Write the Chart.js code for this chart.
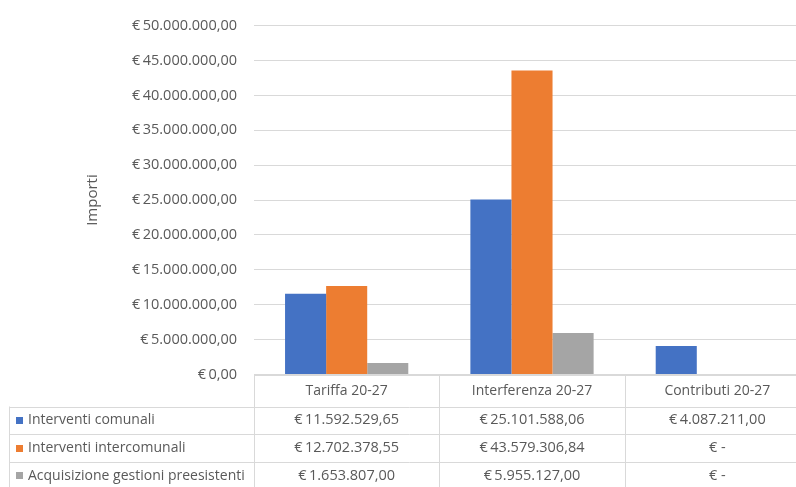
<!DOCTYPE html>
<html><head><meta charset="utf-8">
<script src="https://cdn.jsdelivr.net/npm/chart.js@4"></script>
<style>
html,body{margin:0;padding:0;overflow:hidden;background:#fff;width:796px;height:487px}
canvas{display:block}
</style>
</head><body>
<canvas id="c" width="812" height="487" style="width:812px;height:487px"></canvas>
<script>
// ---- data ----
const categories = ['Tariffa 20-27', 'Interferenza 20-27', 'Contributi 20-27'];
const seriesNames = ['Interventi comunali', 'Interventi intercomunali', 'Acquisizione gestioni preesistenti'];
const interventiComunali = [11592529.65, 25101588.06, 4087211.00];
const interventiIntercomunali = [12702378.55, 43579306.84, 0];
const acquisizioneGestioni = [1653807.00, 5955127.00, 0];
const seriesColors = ['#4472C4', '#ED7D31', '#A5A5A5'];
const yMin = 0, yMax = 50000000, yStep = 5000000;
const yAxisTitle = 'Importi';

// ---- formatting ----
function euroFull(v) {
  const s = Math.abs(v).toFixed(2);
  let [i, d] = s.split('.');
  i = i.replace(/\B(?=(\d{3})+(?!\d))/g, '.');
  return '€\u2009' + i + ',' + d;
}
function euroTable(v) { return v === 0 ? '€ -' : euroFull(v); }

const TEXT = '#595959';
const LINE = '#D9D9D9';
const FONT = "'Open Sans', sans-serif";

const tablePlugin = {
  id: 'dataTable',
  afterDraw(chart) {
    const ctx = chart.ctx;
    const area = chart.chartArea;
    const xs = chart.scales.x;
    const n = categories.length;
    const top = area.bottom;
    const catBottom = top + 32;
    const rowH = 27.7;
    const tableLeft = 9.5;
    const bounds = [area.left];
    for (let i = 0; i < n - 1; i++) bounds.push((xs.getPixelForValue(i) + xs.getPixelForValue(i + 1)) / 2);
    bounds.push(area.right);
    ctx.save();
    ctx.strokeStyle = LINE;
    ctx.lineWidth = 1;
    ctx.beginPath();
    ctx.moveTo(area.left, Math.round(top) + 0.5); ctx.lineTo(area.right, Math.round(top) + 0.5);
    for (let r = 0; r <= chart.data.datasets.length; r++) {
      const y = Math.round(catBottom + r * rowH) + 0.5;
      ctx.moveTo(tableLeft, y); ctx.lineTo(area.right, y);
    }
    for (const b of bounds) {
      const x = Math.round(b) + 0.5;
      ctx.moveTo(x, top); ctx.lineTo(x, chart.height + 5);
    }
    ctx.moveTo(tableLeft, catBottom); ctx.lineTo(tableLeft, chart.height + 5);
    ctx.stroke();

    ctx.textBaseline = 'middle';
    chart.data.datasets.forEach((ds, r) => {
      const cy = catBottom + r * rowH + rowH / 2;
      ctx.fillStyle = ds.backgroundColor;
      ctx.fillRect(16, Math.round(cy - 3.5), 7, 7);
      ctx.fillStyle = TEXT;
      ctx.textAlign = 'left';
      ctx.font = '14px ' + FONT;
      ctx.fillText(ds.label, 28, cy);
      ctx.textAlign = 'center';
      ctx.font = '14.5px ' + FONT;
      ds.data.forEach((v, i) => {
        ctx.fillText(euroTable(v), xs.getPixelForValue(i), cy);
      });
    });
    ctx.restore();
  }
};

new Chart(document.getElementById('c'), {
  type: 'bar',
  data: {
    labels: categories,
    datasets: [
      { label: seriesNames[0], data: interventiComunali, backgroundColor: seriesColors[0] },
      { label: seriesNames[1], data: interventiIntercomunali, backgroundColor: seriesColors[1] },
      { label: seriesNames[2], data: acquisizioneGestioni, backgroundColor: seriesColors[2] }
    ]
  },
  options: {
    responsive: false,
    animation: false,
    devicePixelRatio: 1,
    layout: { padding: { left: 80, top: 21, right: 2, bottom: 0 } },
    datasets: { bar: { barPercentage: 1, categoryPercentage: 0.665, borderWidth: 0 } },
    plugins: { legend: { display: false }, tooltip: { enabled: false } },
    scales: {
      x: {
        grid: { display: false, drawTicks: false },
        border: { display: false },
        ticks: { color: TEXT, font: { family: FONT, size: 14 }, padding: 8 },
        afterFit(scale) { scale.height = 112.5; }
      },
      y: {
        min: yMin, max: yMax,
        grid: { color: LINE, drawTicks: false },
        border: { display: false },
        ticks: { stepSize: yStep, color: TEXT, font: { family: FONT, size: 14.5 }, padding: 17,
                 callback: v => euroFull(v) },
        title: { display: true, text: yAxisTitle, color: TEXT, font: { family: FONT, size: 15 }, padding: { top: 4, bottom: 0 } },
        afterFit(scale) { scale.width = 174; }
      }
    }
  },
  plugins: [tablePlugin]
});
</script>
</body></html>
